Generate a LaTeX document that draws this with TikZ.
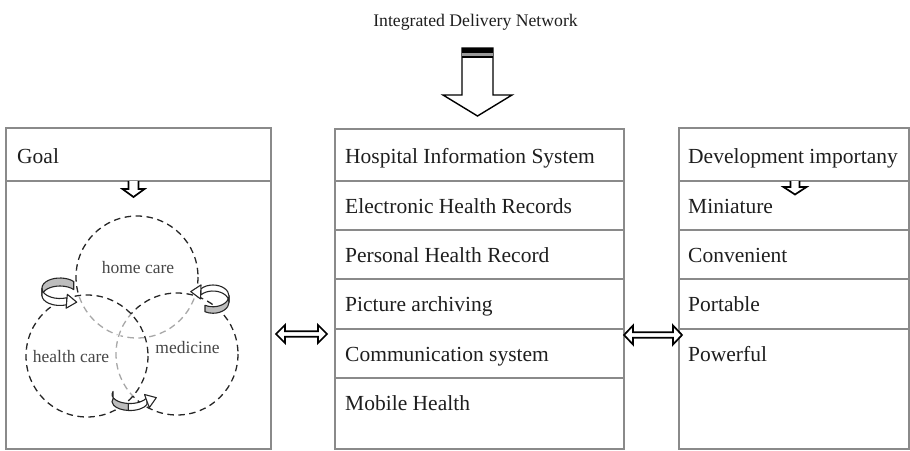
\documentclass[tikz,border=0pt]{standalone}
\usepackage{fontspec}
\setmainfont{Liberation Serif}
\usetikzlibrary{calc}
\definecolor{boxgray}{HTML}{8A8A8A}
\definecolor{txt}{HTML}{1E1E1E}
\definecolor{dashgray}{HTML}{A8A8A8}
\definecolor{ribgray}{HTML}{BDBDBD}
\tikzset{
  boxline/.style={draw=boxgray, line width=1.1pt},
  rowtext/.style={anchor=base west, inner sep=0pt, text=txt, font=\fontsize{21.5}{24}\selectfont},
  titletext/.style={anchor=base, inner sep=0pt, text=txt, font=\fontsize{17.7}{20}\selectfont},
  circlabel/.style={anchor=center, inner sep=0pt, text=black!72, font=\fontsize{17.5}{20}\selectfont},
  blockarrow/.style={draw=black, fill=white, line width=1.4pt, line join=miter},
  dcirc/.style={draw=black!85, line width=1.3pt, dash pattern=on 6.5pt off 4.5pt},
  gcirc/.style={draw=dashgray, line width=1.3pt, dash pattern=on 6.5pt off 4.5pt},
  erase/.style={draw=white, line width=3pt},
  ribbonline/.style={draw=black!85, line width=1.1pt, line join=round},
}
% ribbon: cx, cy, rx, ry, thickness, start angle, end angle, fill
\newcommand\myribbon[8]{%
  \filldraw[ribbonline, fill=#8] ([shift={(#6:#3 and #4)}] #1,{#2-#5/2})
    arc[start angle=#6, end angle=#7, x radius=#3, y radius=#4]
    -- ++(0,#5)
    arc[start angle=#7, end angle=#6, x radius=#3, y radius=#4] -- cycle;}
% arrowhead on ellipse: cx, cy, rx, ry, angle, direction
\newcommand\myribbonhead[6]{%
  \coordinate (ahP) at ([shift={(#5:#3 and #4)}] #1,#2);
  \filldraw[ribbonline, fill=white] ($(ahP)+(#6+90:7)$) -- ($(ahP)+(#6:10)$)
    -- ($(ahP)+(#6-90:7)$) -- cycle;}
\begin{document}
\begin{tikzpicture}[x=1pt, y=-1pt]
\useasboundingbox (0,0) rectangle (910,450);

% title and top arrow
\node[titletext] (title) at (475.5,26) {Integrated Delivery Network};
\draw[blockarrow] (462,48) -- (462,95) -- (443,95) -- (477.5,116) -- (512,95)
  -- (493,95) -- (493,48) -- cycle;
\fill[black] (462,47.5) rectangle (493,52.5);
\fill[black!40] (462,52.5) rectangle (493,55.7);
\fill[black] (462,55.7) rectangle (493,57.5);

% left box
\draw[boxline] (6,128) rectangle (271,449);
\draw[boxline] (6,181) -- (271,181);
\node[rowtext] (goal) at (17,163) {Goal};
\draw[blockarrow, line width=1.7pt] (128.5,181) -- (128.5,189) -- (122.5,189) -- (133.5,197)
  -- (144.5,189) -- (138.5,189) -- (138.5,181);

% middle box
\draw[boxline] (335,129) rectangle (624,449);
\foreach \yy in {181,230,279,329,378} {\draw[boxline] (335,\yy) -- (624,\yy);}
\node[rowtext] (his) at (345,163) {Hospital Information System};
\node[rowtext] (ehr) at (345,213) {Electronic Health Records};
\node[rowtext] (phr) at (345,262) {Personal Health Record};
\node[rowtext] (pa)  at (345,311.5) {Picture archiving};
\node[rowtext] (cs)  at (345,361) {Communication system};
\node[rowtext] (mh)  at (345,410) {Mobile Health};

% right box
\draw[boxline] (679,128) -- (909,128) -- (909,449) -- (679,449) -- cycle;
\foreach \yy in {181,230,279,329} {\draw[boxline] (679,\yy) -- (909,\yy);}
\node[rowtext] (dev) at (688,163) {Development importany};
\node[rowtext] (mini) at (688,213) {Miniature};
\node[rowtext] (conv) at (688,262) {Convenient};
\node[rowtext] (port) at (688,311.5) {Portable};
\node[rowtext] (powf) at (688,361) {Powerful};
\draw[blockarrow, line width=1.7pt] (790.5,181) -- (790.5,187) -- (783.5,187) -- (795,194.5)
  -- (806.5,187) -- (799.5,187) -- (799.5,181);

% double arrows
\draw[blockarrow, line width=1.7pt] (276,334) -- (285,325) -- (285,331.2) -- (318,331.2)
  -- (318,325) -- (327,334) -- (318,343) -- (318,336.8) -- (285,336.8) -- (285,343) -- cycle;
\draw[blockarrow, line width=1.7pt] (624,335) -- (633,325.5) -- (633,332.2) -- (673,332.2)
  -- (673,325.5) -- (682,335) -- (673,344.5) -- (673,337.8) -- (633,337.8) -- (633,344.5) -- cycle;

% circles: home care (C1), health care (C2), medicine (C3)
\draw[dcirc] (137,277) circle[radius=61];
\begin{scope}
  \clip (87,356) circle[radius=61];
  \draw[erase] (137,277) circle[radius=61];
  \draw[gcirc] (137,277) circle[radius=61];
\end{scope}
\begin{scope}
  \clip (177,354) circle[radius=61];
  \draw[erase] (137,277) circle[radius=61];
  \draw[gcirc] (137,277) circle[radius=61];
\end{scope}
\draw[dcirc] (177,354) circle[radius=61];
\begin{scope}
  \clip (87,356) circle[radius=61];
  \draw[erase] (177,354) circle[radius=61];
  \draw[gcirc] (177,354) circle[radius=61];
\end{scope}
\draw[dcirc] (87,356) circle[radius=61];

\node[circlabel] (home) at (138,268) {home care};
\node[circlabel] (health) at (71,357) {health care};
\node[circlabel] (med) at (187.5,348) {medicine};

% looping arrows
% left
\myribbon{60}{292}{18}{10}{8}{-40}{-180}{ribgray}
\myribbon{60}{292}{18}{10}{7}{-180}{-292}{white}
\myribbonhead{60}{292}{18}{10}{68}{5}
% right
\myribbon{213}{299}{16}{11}{6.5}{120}{0}{ribgray}
\myribbon{213}{299}{16}{11}{6}{0}{-140}{white}
\myribbonhead{213}{299}{16}{11}{-140}{182}
% bottom
\myribbon{130}{398}{18}{9}{7}{200}{95}{ribgray}
\myribbon{130}{398}{18}{9}{7}{95}{20}{white}
\myribbonhead{130}{398}{18}{9}{20}{-20}
\end{tikzpicture}
\end{document}
